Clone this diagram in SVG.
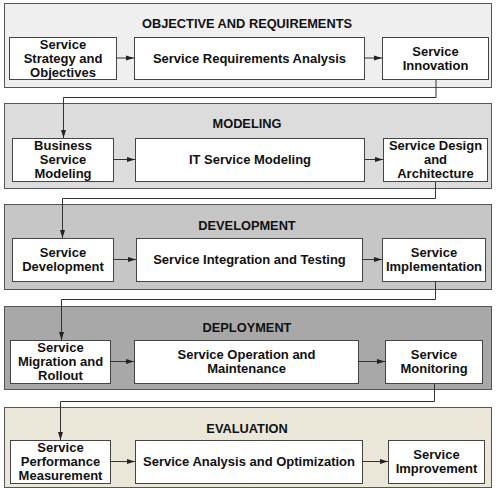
<svg xmlns="http://www.w3.org/2000/svg" width="496" height="488" viewBox="0 0 496 488">
<style>
.band{stroke:#555;stroke-width:1}
.node rect{fill:#fff;stroke:#444;stroke-width:1}
text{font-family:"Liberation Sans",Arial,sans-serif;font-weight:bold;fill:#111;text-anchor:middle}
.t{font-size:13px}
.title{font-size:12.8px}
.c{fill:none;stroke:#333;stroke-width:1}
</style>
<defs>
<marker id="ah" viewBox="0 0 8 6" refX="8" refY="3" markerWidth="8" markerHeight="6" markerUnits="userSpaceOnUse" orient="auto">
<path d="M0,0.5 L8,3 L0,5.5 Z" fill="#222"/>
</marker>
</defs>
<rect width="496" height="488" fill="#fff"/>
<g id="bands">
<rect class="band" x="4.5" y="3.5" width="487" height="84" fill="#efefef"/>
<rect class="band" x="4.5" y="103.5" width="487" height="85" fill="#dcdcdc"/>
<rect class="band" x="4.5" y="204.5" width="487" height="85" fill="#c6c6c6"/>
<rect class="band" x="4.5" y="306.5" width="487" height="83" fill="#a8a8a8"/>
<rect class="band" x="4.5" y="407.5" width="487" height="80" fill="#ebe7d8"/>
<text class="title" x="247" y="28">OBJECTIVE AND REQUIREMENTS</text>
<text class="title" x="247" y="128">MODELING</text>
<text class="title" x="247" y="230">DEVELOPMENT</text>
<text class="title" x="247" y="332">DEPLOYMENT</text>
<text class="title" x="247" y="433">EVALUATION</text>
</g>
<g id="connectors">
<path class="c" d="M116,58 H134" marker-end="url(#ah)"/>
<path class="c" d="M364,58 H382" marker-end="url(#ah)"/>
<path class="c" d="M436,79 V97.5 H63.5 V138" marker-end="url(#ah)"/>
<path class="c" d="M113,159.5 H135" marker-end="url(#ah)"/>
<path class="c" d="M364,159.5 H383" marker-end="url(#ah)"/>
<path class="c" d="M435.5,181 V198.5 H62.5 V238" marker-end="url(#ah)"/>
<path class="c" d="M113,259.5 H136" marker-end="url(#ah)"/>
<path class="c" d="M362,259.5 H382" marker-end="url(#ah)"/>
<path class="c" d="M435.5,281 V299.5 H61.5 V340" marker-end="url(#ah)"/>
<path class="c" d="M110,361.5 H134" marker-end="url(#ah)"/>
<path class="c" d="M358,361.5 H385" marker-end="url(#ah)"/>
<path class="c" d="M434.5,383 V401.5 H60.5 V440" marker-end="url(#ah)"/>
<path class="c" d="M110,461.5 H135" marker-end="url(#ah)"/>
<path class="c" d="M362,461.5 H388" marker-end="url(#ah)"/>
</g>
<g id="n1" class="node"><rect x="9.5" y="37.5" width="107" height="42"/><text class="t" x="63" y="48.5">Service</text><text class="t" x="63" y="62.5">Strategy and</text><text class="t" x="63" y="76.5">Objectives</text></g>
<g id="n2" class="node"><rect x="134.5" y="37.5" width="230" height="42"/><text class="t" x="249.5" y="62.5">Service Requirements Analysis</text></g>
<g id="n3" class="node"><rect x="382.5" y="37.5" width="106" height="42"/><text class="t" x="435.5" y="55.5">Service</text><text class="t" x="435.5" y="69.5">Innovation</text></g>
<g id="n4" class="node"><rect x="12.5" y="138.5" width="101" height="43"/><text class="t" x="63" y="149.5">Business</text><text class="t" x="63" y="163.5">Service</text><text class="t" x="63" y="177.5">Modeling</text></g>
<g id="n5" class="node"><rect x="135.5" y="138.5" width="229" height="43"/><text class="t" x="250" y="164">IT Service Modeling</text></g>
<g id="n6" class="node"><rect x="383.5" y="138.5" width="104" height="43"/><text class="t" x="435.5" y="149.5">Service Design</text><text class="t" x="435.5" y="163.5">and</text><text class="t" x="435.5" y="177.5">Architecture</text></g>
<g id="n7" class="node"><rect x="12.5" y="238.5" width="101" height="43"/><text class="t" x="63" y="257">Service</text><text class="t" x="63" y="271">Development</text></g>
<g id="n8" class="node"><rect x="136.5" y="238.5" width="226" height="43"/><text class="t" x="249.5" y="264">Service Integration and Testing</text></g>
<g id="n9" class="node"><rect x="382.5" y="238.5" width="103" height="43"/><text class="t" x="434" y="257">Service</text><text class="t" x="434" y="271">Implementation</text></g>
<g id="n10" class="node"><rect x="10.5" y="340.5" width="100" height="43"/><text class="t" x="60.5" y="351.5">Service</text><text class="t" x="60.5" y="365.5">Migration and</text><text class="t" x="60.5" y="379.5">Rollout</text></g>
<g id="n11" class="node"><rect x="134.5" y="340.5" width="224" height="43"/><text class="t" x="246.5" y="359">Service Operation and</text><text class="t" x="246.5" y="373">Maintenance</text></g>
<g id="n12" class="node"><rect x="385.5" y="340.5" width="97" height="43"/><text class="t" x="434" y="359">Service</text><text class="t" x="434" y="373">Monitoring</text></g>
<g id="n13" class="node"><rect x="10.5" y="440.5" width="100" height="43"/><text class="t" x="60.5" y="451.5">Service</text><text class="t" x="60.5" y="465.5">Performance</text><text class="t" x="60.5" y="479.5">Measurement</text></g>
<g id="n14" class="node"><rect x="135.5" y="440.5" width="227" height="43"/><text class="t" x="249" y="466">Service Analysis and Optimization</text></g>
<g id="n15" class="node"><rect x="388.5" y="440.5" width="96" height="43"/><text class="t" x="436.5" y="459">Service</text><text class="t" x="436.5" y="473">Improvement</text></g>
</svg>
